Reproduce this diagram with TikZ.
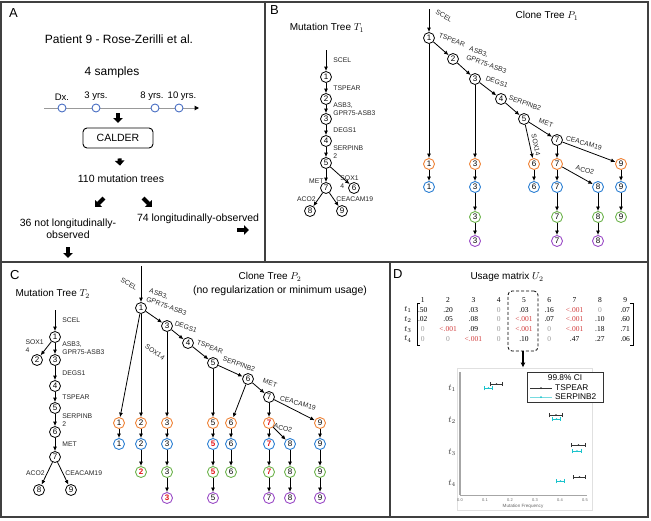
\documentclass[tikz,border=0pt]{standalone}
\usepackage{fontspec}
\setmainfont{Liberation Sans}
\newfontfamily\matfont{Liberation Serif}
\usetikzlibrary{arrows.meta,positioning,calc}
\definecolor{CloneOrange}{HTML}{EF8236}
\definecolor{CloneBlue}{HTML}{2B7FD3}
\definecolor{CloneGreen}{HTML}{6DB34C}
\definecolor{ClonePurple}{HTML}{9A4AC6}
\definecolor{HotRed}{HTML}{E3171B}
\definecolor{MatRed}{HTML}{D13B3B}
\definecolor{MatGray}{HTML}{999999}
\definecolor{CIcyan}{HTML}{1BC3CC}
\definecolor{SampleBlue}{HTML}{4A6FC4}
\tikzset{
  panelframe/.style={draw=black!75, line width=1.1pt},
  panel/.style={font=\fontsize{13}{13}\selectfont, anchor=north west, inner sep=0pt},
  ttl/.style={font=\fontsize{10}{12}\selectfont},
  bigtext/.style={font=\fontsize{12}{14}\selectfont},
  midtext/.style={font=\fontsize{10.5}{12}\selectfont},
  timelab/.style={font=\fontsize{9.5}{11}\selectfont, inner sep=1pt},
  sampdot/.style={circle, draw=SampleBlue, line width=0.9pt, fill=white, inner sep=0pt, minimum size=8pt},
  tline/.style={draw=black!40, line width=1pt, -{Triangle[length=4.5pt,width=4.5pt,color=black]}},
  calderbox/.style={draw, rounded corners=4pt, line width=0.9pt, minimum width=70pt, minimum height=20pt, font=\fontsize{10.5}{12}\selectfont},
  blockarrow/.style={line width=4pt, -{Triangle[length=5pt,width=9.5pt]}},
  mut/.style={circle, draw=black, line width=0.8pt, fill=white, inner sep=0pt, minimum size=11pt, font=\fontsize{8}{8}\selectfont},
  onode/.style={mut, draw=CloneOrange, line width=0.9pt},
  bnode/.style={mut, draw=CloneBlue, line width=0.9pt},
  gnode/.style={mut, draw=CloneGreen, line width=0.9pt},
  pnode/.style={mut, draw=ClonePurple, line width=0.9pt},
  hotnum/.style={text=HotRed, font=\fontsize{8}{8}\selectfont\bfseries},
  nohl/.style={},
  link/.style={-{Latex[length=4.5pt,width=4pt]}, line width=0.8pt},
  elabel/.style={font=\fontsize{6.8}{7.8}\selectfont, inner sep=1pt, text=black!85},
  clabel/.style={elabel, font=\fontsize{6.8}{8.8}\selectfont},
  mentry/.style={font=\matfont\fontsize{7.5}{8}\selectfont, inner sep=0pt},
  mk/.style={text=black},
  mg/.style={text=MatGray},
  mr/.style={text=MatRed},
  rowlab/.style={font=\fontsize{8}{9}\selectfont, inner sep=0pt},
  bracket/.style={line width=0.9pt},
  selbox/.style={draw, densely dashed, rounded corners=4pt, line width=0.8pt, minimum width=30pt, minimum height=60pt, inner sep=0pt},
  bigarrow/.style={-{Latex[length=5pt,width=5pt]}, line width=1.6pt},
  ticklab/.style={font=\fontsize{4}{5}\selectfont, text=black!60, inner sep=0pt},
  cibar/.style={{Bar[width=4.5pt,line width=0.8pt]}-{Bar[width=4.5pt,line width=0.8pt]}, line width=0.8pt},
  legtext/.style={font=\fontsize{8.3}{9}\selectfont, inner sep=0pt}
}
\begin{document}
\begin{tikzpicture}[x=1pt, y=-1pt, every node/.style={font=\fontsize{10}{12}\selectfont}]
\useasboundingbox (0,0) rectangle (651,520);
% panel frames
\draw[panelframe] (1,2) rectangle (648,517);
\draw[panelframe] (265,2) -- (265,262);
\draw[panelframe] (1,262) -- (648,262);
\draw[panelframe] (390,262) -- (390,517);

% ---------- A ----------
\node[panel] (labA) at (9,8) {A};
\node[bigtext] (patient) at (119,39) {Patient 9 - Rose-Zerilli et al.};
\node[bigtext] (nsamp) at (112,72) {4 samples};
\coordinate (tlstart) at (44,108);
\coordinate (tlend) at (199,108);
\draw[tline] (tlstart) -- (tlend);
\node[sampdot] (sdx) at (62,108) {};
\node[sampdot] (s3) at (96,108) {};
\node[sampdot] (s8) at (155,108) {};
\node[sampdot] (s10) at (179,108) {};
\node[timelab, above=2pt of sdx] {Dx.};
\node[timelab, above=2pt of s3] {3 yrs.};
\node[timelab, above=2pt of s8, xshift=-3pt] {8 yrs.};
\node[timelab, above=2pt of s10, xshift=3pt] {10 yrs.};
\node[calderbox] (calder) at (118,138) {CALDER};
\node[midtext] (ntrees) at (121,179) {110 mutation trees};
\node[midtext, align=center] (notlong) at (68,229) {36 not longitudinally-\\observed};
\node[midtext] (long) at (198,219) {74 longitudinally-observed};
\coordinate (a1s) at (118,113);
\coordinate (a1e) at (118,123);
\draw[blockarrow] (a1s) -- (a1e);
\draw[blockarrow, shorten <=10pt, shorten >=6pt] (calder) -- (ntrees);
\coordinate (adl-s) at (104,198);
\coordinate (adl-e) at (95,207);
\coordinate (adr-s) at (143,198);
\coordinate (adr-e) at (152,207);
\draw[blockarrow] (adl-s) -- (adl-e);
\draw[blockarrow] (adr-s) -- (adr-e);
\coordinate (ar-s) at (237,230);
\coordinate (ar-e) at (249,230);
\draw[blockarrow] (ar-s) -- (ar-e);
\coordinate (ad-s) at (68,247);
\coordinate (ad-e) at (68,258);
\draw[blockarrow] (ad-s) -- (ad-e);

% ---------- B: mutation tree T1 ----------
\node[panel] (labB) at (270,5) {B};
\node[ttl] (T1title) at (327,28) {Mutation Tree $T_1$};
\coordinate (T1-in) at (326,50);
\node[mut] (T1-1) at (326,77) {1};
\node[mut] (T1-2) at (326,99) {2};
\node[mut] (T1-3) at (326,119) {3};
\node[mut] (T1-4) at (326,141) {4};
\node[mut] (T1-5) at (326,163) {5};
\node[mut] (T1-6) at (354,188) {6};
\node[mut] (T1-7) at (326,188) {7};
\node[mut] (T1-8) at (310,211) {8};
\node[mut] (T1-9) at (342,211) {9};
\draw[link] (T1-in) -- node[elabel, right=6pt] {SCEL} (T1-1);
\draw[link] (T1-1) -- node[elabel, right=6pt] {TSPEAR} (T1-2);
\draw[link] (T1-2) -- node[elabel, right=6pt, align=left] {ASB3,\\GPR75-ASB3} (T1-3);
\draw[link] (T1-3) -- node[elabel, right=6pt] {DEGS1} (T1-4);
\draw[link] (T1-4) -- node[elabel, right=6pt, align=left] {SERPINB\\2} (T1-5);
\draw[link] (T1-5) -- node[elabel, left=1pt, pos=0.9] {MET} (T1-7);
\draw[link] (T1-5) -- node[elabel, anchor=north west, align=left, pos=0.45] {SOX1\\4} (T1-6);
\draw[link] (T1-7) -- node[elabel, left=1pt] {ACO2} (T1-8);
\draw[link] (T1-7) -- node[elabel, right=1pt] {CEACAM19} (T1-9);

% ---------- B: clone tree P1 ----------
\node[ttl] (P1title) at (547,16) {Clone Tree $P_1$};
\coordinate (P1-in) at (429,9);
\node[mut] (P1-k1) at (429,38) {1};
\node[mut] (P1-k2) at (453,59) {2};
\node[mut] (P1-k3) at (475,79) {3};
\node[mut] (P1-k4) at (501,99) {4};
\node[mut] (P1-k5) at (524,119) {5};
\node[mut] (P1-k7) at (557,140) {7};
\foreach \n/\x in {1/429,3/475,6/534,7/557,9/621}
  \node[onode] (P1-o\n) at (\x,164) {\n};
\foreach \n/\x in {1/429,3/475,6/534,7/557,8/598,9/621}
  \node[bnode] (P1-b\n) at (\x,187) {\n};
\foreach \n/\x in {3/475,7/557,8/598,9/621}
  \node[gnode] (P1-g\n) at (\x,217) {\n};
\foreach \n/\x in {3/475,7/557,8/598}
  \node[pnode] (P1-p\n) at (\x,241) {\n};
\draw[link] (P1-in) -- (P1-k1);
\draw[link] (P1-k1) -- (P1-k2);
\draw[link] (P1-k2) -- (P1-k3);
\draw[link] (P1-k3) -- (P1-k4);
\draw[link] (P1-k4) -- (P1-k5);
\draw[link] (P1-k5) -- (P1-k7);
\draw[link] (P1-k1) -- (P1-o1);
\draw[link] (P1-k3) -- (P1-o3);
\draw[link] (P1-k5) -- (P1-o6);
\draw[link] (P1-k7) -- (P1-o7);
\draw[link] (P1-k7) -- (P1-o9);
\draw[link] (P1-o7) -- (P1-b8);
\foreach \n in {1,3,6,7,9} \draw[link] (P1-o\n) -- (P1-b\n);
\foreach \n in {3,7,8,9} \draw[link] (P1-b\n) -- (P1-g\n);
\foreach \n in {3,7,8} \draw[link] (P1-g\n) -- (P1-p\n);
\node[clabel, rotate=-30] (P1-lscel) at (444,16) {SCEL};
\node[clabel, rotate=-20] (P1-ltspear) at (452,40) {TSPEAR};
\node[clabel, rotate=-20, align=left] (P1-lasb) at (488,60) {ASB3,\\GPR75-ASB3};
\node[clabel, rotate=-20] (P1-ldegs) at (497,82) {DEGS1};
\node[clabel, rotate=-20] (P1-lserp) at (525,103) {SERPINB2};
\node[clabel, rotate=-20] (P1-lmet) at (546,123) {MET};
\node[clabel, rotate=-78] (P1-lsox) at (536,145) {SOX14};
\node[clabel, rotate=-15] (P1-lcea) at (584,143) {CEACAM19};
\node[clabel, rotate=-15] (P1-laco) at (585,170) {ACO2};

% ---------- C: mutation tree T2 ----------
\node[panel] (labC) at (10,270) {C};
\node[ttl, anchor=west] (T2title) at (12,294) {Mutation Tree $T_2$};
\coordinate (T2-in) at (55,310);
\node[mut] (T2-1) at (55,337) {1};
\node[mut] (T2-2) at (37,360) {2};
\node[mut] (T2-3) at (55,360) {3};
\node[mut] (T2-4) at (55,386) {4};
\node[mut] (T2-5) at (55,408) {5};
\node[mut] (T2-6) at (55,432) {6};
\node[mut] (T2-7) at (55,457) {7};
\node[mut] (T2-8) at (39,490) {8};
\node[mut] (T2-9) at (71,490) {9};
\draw[link] (T2-in) -- node[elabel, right=6pt] {SCEL} (T2-1);
\draw[link] (T2-1) -- node[elabel, left=3pt, align=left, pos=0.3] {SOX1\\4} (T2-2);
\draw[link] (T2-1) -- node[elabel, right=6pt, align=left] {ASB3,\\GPR75-ASB3} (T2-3);
\draw[link] (T2-3) -- node[elabel, right=6pt] {DEGS1} (T2-4);
\draw[link] (T2-4) -- node[elabel, right=6pt] {TSPEAR} (T2-5);
\draw[link] (T2-5) -- node[elabel, right=6pt, align=left] {SERPINB\\2} (T2-6);
\draw[link] (T2-6) -- node[elabel, right=6pt] {MET} (T2-7);
\draw[link] (T2-7) -- node[elabel, left=1pt] {ACO2} (T2-8);
\draw[link] (T2-7) -- node[elabel, right=1pt] {CEACAM19} (T2-9);

% ---------- C: clone tree P2 ----------
\node[ttl] (P2title) at (270,277) {Clone Tree $P_2$};
\node[midtext] (P2sub) at (280,291) {(no regularization or minimum usage)};
\coordinate (P2-in) at (141,266);
\node[mut] (P2-k1) at (141,308) {1};
\node[mut] (P2-k3) at (167,326) {3};
\node[mut] (P2-k4) at (188,343) {4};
\node[mut] (P2-k5) at (213,363) {5};
\node[mut] (P2-k6) at (248,379) {6};
\node[mut] (P2-k7) at (269,397) {7};
\foreach \n/\x/\s in {1/119/nohl,2/141/nohl,3/167/nohl,5/213/nohl,6/231/nohl,7/269/hotnum,9/320/nohl}
  \node[onode,\s] (P2-o\n) at (\x,423) {\n};
\foreach \n/\x/\s in {1/119/nohl,2/141/nohl,3/167/nohl,5/213/hotnum,6/231/nohl,7/269/hotnum,8/290/nohl,9/320/nohl}
  \node[bnode,\s] (P2-b\n) at (\x,444) {\n};
\foreach \n/\x/\s in {2/141/hotnum,3/167/nohl,5/213/hotnum,6/231/nohl,7/269/hotnum,8/290/nohl,9/320/nohl}
  \node[gnode,\s] (P2-g\n) at (\x,472) {\n};
\foreach \n/\x/\s in {3/167/hotnum,5/213/nohl,7/269/nohl,8/290/nohl,9/320/nohl}
  \node[pnode,\s] (P2-p\n) at (\x,498) {\n};
\draw[link] (P2-in) -- (P2-k1);
\draw[link] (P2-k1) -- (P2-k3);
\draw[link] (P2-k3) -- (P2-k4);
\draw[link] (P2-k4) -- (P2-k5);
\draw[link] (P2-k5) -- (P2-k6);
\draw[link] (P2-k6) -- (P2-k7);
\draw[link] (P2-k1) -- (P2-o1);
\draw[link] (P2-k1) -- (P2-o2);
\draw[link] (P2-k3) -- (P2-o3);
\draw[link] (P2-k5) -- (P2-o5);
\draw[link] (P2-k6) -- (P2-o6);
\draw[link] (P2-k7) -- (P2-o7);
\draw[link] (P2-k7) -- (P2-o9);
\draw[link] (P2-o7) -- (P2-b8);
\foreach \n in {1,2,3,5,6,7,9} \draw[link] (P2-o\n) -- (P2-b\n);
\foreach \n in {2,3,5,6,7,8,9} \draw[link] (P2-b\n) -- (P2-g\n);
\foreach \n in {3,5,7,8,9} \draw[link] (P2-g\n) -- (P2-p\n);
\node[clabel, rotate=-30] (P2-lscel) at (129,284) {SCEL};
\node[clabel, rotate=-20, align=left] (P2-lasb) at (168,302) {ASB3,\\GPR75-ASB3};
\node[clabel, rotate=-35] (P2-lsox) at (155,352) {SOX14};
\node[clabel, rotate=-20] (P2-ldegs) at (186,327) {DEGS1};
\node[clabel, rotate=-20] (P2-ltspear) at (210,347) {TSPEAR};
\node[clabel, rotate=-20] (P2-lserp) at (239,364) {SERPINB2};
\node[clabel, rotate=-20] (P2-lmet) at (270,383) {MET};
\node[clabel, rotate=-15] (P2-lcea) at (298,403) {CEACAM19};
\node[clabel, rotate=-15] (P2-laco) at (283,428) {ACO2};

% ---------- D: usage matrix ----------
\node[panel] (labD) at (393,269) {D};
\node[ttl] (Utitle) at (507,277) {Usage matrix $U_2$};
\foreach \j in {1,...,9}
  \node[mentry] (U-h\j) at ({397.5+25.3*\j},300) {\j};
\foreach \row [count=\i] in {
  {.50/k,.20/k,.03/k,0/g,.03/k,.16/k,<.001/r,0/g,.07/k},
  {.02/k,.05/k,.08/k,0/g,<.001/r,.07/k,<.001/r,.10/k,.60/k},
  {0/g,<.001/r,.09/k,0/g,<.001/r,0/g,<.001/r,.18/k,.71/k},
  {0/g,0/g,<.001/r,0/g,.10/k,0/g,.47/k,.27/k,.06/k}} {
  \node[rowlab] (U-t\i) at (408,{300+9.75*\i}) {$t_\i$};
  \foreach \v/\c [count=\j] in \row
    \node[mentry, m\c] (U-\i-\j) at ({397.5+25.3*\j},{300+9.75*\i}) {\v};
}
\draw[bracket] (420,303) -- (417,303) -- (417,345) -- (420,345);
\draw[bracket] (630,303) -- (633,303) -- (633,345) -- (630,345);
\node[selbox] (U-sel) at (523,321) {};

% ---------- D: confidence intervals ----------
\node[draw=black!12, line width=0.8pt, minimum width=135pt, minimum height=142pt, inner sep=0pt] (plotframe) at (524.5,439) {};
\draw[bigarrow] (U-sel.south) -- (U-sel.south |- plotframe.north);
\draw[black!35, line width=1.6pt] (460,372) -- (460,495);
\draw[black!35, line width=0.8pt] (460,495) -- (587,495);
\foreach \v [count=\i from 0] in {0.0,0.1,0.2,0.3,0.4,0.5}
  \node[ticklab] (tick\i) at ({460+25*\i},500) {\v};
\node[ticklab, font=\fontsize{4.6}{5}\selectfont] (xlab) at (523,506) {Mutation Frequency};
\foreach \yy [count=\i] in {388,420,452,483}
  \node[font=\fontsize{9}{10}\selectfont, text=black!80] (ylab\i) at (452,\yy) {$t_\i$};
\foreach \xa/\xb/\yy/\cc in {490/503/384/black!80, 484/493/388/CIcyan, 549/563/415/black!80, 552/561/419/CIcyan, 571/586/445/black!80, 572/582/451/CIcyan, 573/586/477/black!80, 556/565/481/CIcyan} {
  \draw[cibar, draw=\cc] (\xa,\yy) -- (\xb,\yy);
  \fill[\cc] ({(\xa+\xb)/2},\yy) circle (0.9pt);
}
\node[draw=black!80, line width=1pt, fill=white, minimum width=76pt, minimum height=30pt, inner sep=0pt] (legend) at (565,387) {};
\node[legtext] (legtitle) at (565,378) {99.8\% CI};
\coordinate (leg1a) at (530,388);
\coordinate (leg1b) at (552,388);
\coordinate (leg2a) at (530,397);
\coordinate (leg2b) at (552,397);
\draw[black!80, line width=0.7pt] (leg1a) -- (leg1b);
\fill[black!80] ($(leg1a)!0.5!(leg1b)$) circle (1pt);
\draw[CIcyan!60, line width=0.7pt] (leg2a) -- (leg2b);
\fill[CIcyan] ($(leg2a)!0.5!(leg2b)$) circle (1pt);
\node[legtext, anchor=west] (legT) at (555,388) {TSPEAR};
\node[legtext, anchor=west] (legS) at (555,397) {SERPINB2};
\end{tikzpicture}
\end{document}
